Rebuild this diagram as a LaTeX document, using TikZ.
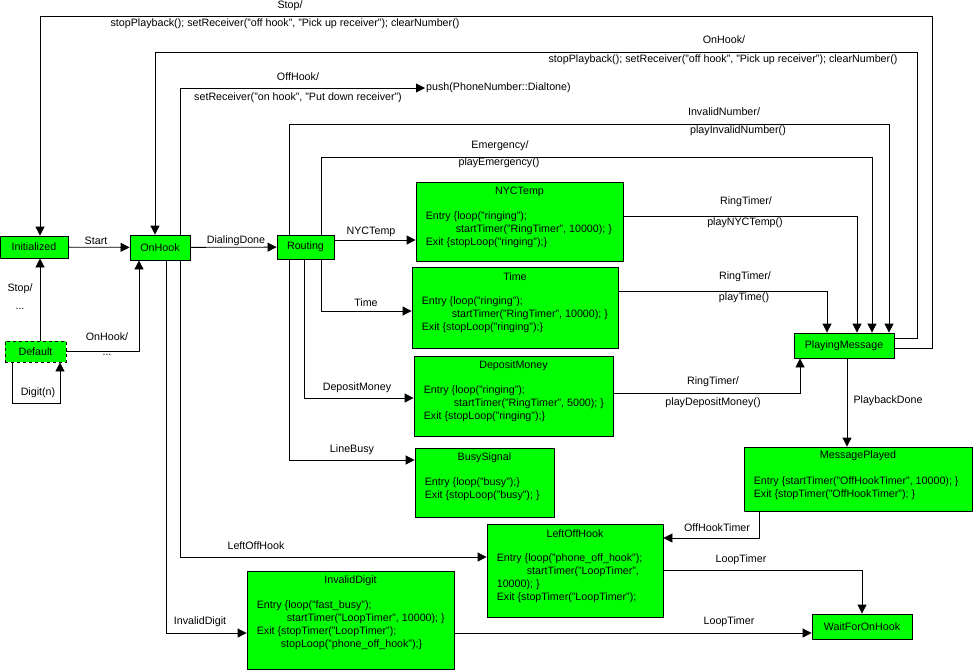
\documentclass[tikz,border=0pt]{standalone}
\usepackage{fontspec}
\setmainfont{Liberation Sans}
\usepackage{tikz}
\usetikzlibrary{arrows.meta,positioning}
\definecolor{stategreen}{RGB}{0,255,0}
\tikzset{
  state/.style={draw, fill=stategreen, line width=0.8pt, inner sep=0pt},
  superstate/.style={draw, fill=stategreen, line width=0.8pt, inner sep=0pt},
  trans/.style={-{Triangle[length=9pt,width=9pt]}, line width=0.8pt},
  lbl/.style={inner sep=0pt},
  body/.style={inner sep=0pt, align=left, anchor=north west},
}

\begin{document}
\begin{tikzpicture}[x=1pt, y=-1pt, font=\fontsize{10.7pt}{13pt}\selectfont]
 \useasboundingbox (0,0) rectangle (973,670);

 \node[state, minimum width=68, minimum height=22] (init) at (34,247) {Initialized};
 \node[state, minimum width=60, minimum height=25] (onhook) at (160,247.5) {OnHook};
 \node[state, minimum width=57, minimum height=24] (rt) at (305.5,247) {Routing};
 \node[state, dashed, minimum width=61, minimum height=21] (def) at (35.5,351.5) {Default};
 \node[state, minimum width=100, minimum height=25] (pm) at (844,345.5) {PlayingMessage};
 \node[state, minimum width=100, minimum height=25] (wait) at (862,626.5) {WaitForOnHook};
 \node[inner sep=1pt, anchor=west] (push) at (425,88) {push(PhoneNumber::Dialtone)};

 \node[superstate, minimum width=207, minimum height=79] (nyc) at (519.5,221.5) {};
 \node[lbl] (nyc-t) at ([yshift=-10pt]nyc.north) {NYCTemp};
 \node[body] (nyc-b) at ([xshift=10pt,yshift=-30pt]nyc.north west)
  {Entry \{loop("ringing");\\\hspace*{30pt}startTimer("RingTimer", 10000); \}\\Exit \{stopLoop("ringing");\}};

 \node[superstate, minimum width=206, minimum height=81] (time) at (515,307.5) {};
 \node[lbl] (time-t) at ([yshift=-10pt]time.north) {Time};
 \node[body] (time-b) at ([xshift=10pt,yshift=-30pt]time.north west)
  {Entry \{loop("ringing");\\\hspace*{30pt}startTimer("RingTimer", 10000); \}\\Exit \{stopLoop("ringing");\}};

 \node[superstate, minimum width=199, minimum height=80] (dep) at (513.5,396) {};
 \node[lbl] (dep-t) at ([yshift=-10pt]dep.north) {DepositMoney};
 \node[body] (dep-b) at ([xshift=10pt,yshift=-30pt]dep.north west)
  {Entry \{loop("ringing");\\\hspace*{30pt}startTimer("RingTimer", 5000); \}\\Exit \{stopLoop("ringing");\}};

 \node[superstate, minimum width=139, minimum height=69] (busy) at (484.5,482.5) {};
 \node[lbl] (busy-t) at ([yshift=-10pt]busy.north) {BusySignal};
 \node[body] (busy-b) at ([xshift=10pt,yshift=-30pt]busy.north west)
  {Entry \{loop("busy");\}\\Exit \{stopLoop("busy"); \}};

 \node[superstate, minimum width=228, minimum height=64] (mp) at (858,479) {};
 \node[lbl] (mp-t) at ([yshift=-9pt]mp.north) {MessagePlayed};
 \node[body] (mp-b) at ([xshift=10pt,yshift=-30pt]mp.north west)
  {Entry \{startTimer("OffHookTimer", 10000); \}\\Exit \{stopTimer("OffHookTimer"); \}};

 \node[superstate, minimum width=176, minimum height=93] (loh) at (575,570.5) {};
 \node[lbl] (loh-t) at ([yshift=-10pt]loh.north) {LeftOffHook};
 \node[body] (loh-b) at ([xshift=10pt,yshift=-30pt]loh.north west)
  {Entry \{loop("phone\_off\_hook");\\\hspace*{30pt}startTimer("LoopTimer",\\10000); \}\\Exit \{stopTimer("LoopTimer");};

 \node[superstate, minimum width=207, minimum height=98] (inv) at (350.5,620) {};
 \node[lbl] (inv-t) at ([yshift=-10pt]inv.north) {InvalidDigit};
 \node[body] (inv-b) at ([xshift=10pt,yshift=-30pt]inv.north west)
  {Entry \{loop("fast\_busy");\\\hspace*{30pt}startTimer("LoopTimer", 10000); \}\\Exit \{stopTimer("LoopTimer");\\\hspace*{24pt}stopLoop("phone\_off\_hook");\}};

 \draw[trans] (init) -- (onhook);
 \draw[trans] (onhook) -- (rt);
 \draw[trans] ([xshift=4.5pt]def.north) -- ([xshift=4.5pt]def.north |- init.south);
 \draw[trans] (def.east) -| ([xshift=-21pt]onhook.south);
 \draw[trans] ([xshift=-23.5pt]def.south) -- ++(0,41) -| ([xshift=24.5pt]def.south);

 \draw[trans] ([yshift=7pt]rt.east) -- ([yshift=7pt]rt.east -| nyc.west);
 \draw[trans] ([xshift=15.5pt]rt.south) |- ([yshift=-3.5pt]time.west);
 \draw[trans] ([xshift=-1.5pt]rt.south) |- ([yshift=-2pt]dep.west);
 \draw[trans] ([xshift=-16.5pt]rt.south) |- ([yshift=22.5pt]busy.west);
 \draw[trans] ([xshift=15.5pt]rt.north) -- ++(0,-77) -| ([xshift=28pt]pm.north);
 \draw[trans] ([xshift=-16.5pt]rt.north) -- ++(0,-110) -| ([xshift=45pt]pm.north);

 \draw[trans] ([yshift=5.5pt]nyc.east) -| ([xshift=13pt]pm.north);
 \draw[trans] ([yshift=16.5pt]time.east) -| ([xshift=-17pt]pm.north);
 \draw[trans] ([yshift=3pt]dep.east) -| ([xshift=-44pt]pm.south);

 \draw[trans] ([yshift=-2.5pt]pm.east) -| (932,16) -| ([xshift=6pt]init.north);
 \draw[trans] ([yshift=7.5pt]pm.east) -| (917,52) -| ([xshift=-5pt]onhook.north);
 \draw[trans] ([xshift=20pt]onhook.north) |- (push.west);

 \draw[trans] ([xshift=20pt]onhook.south) |- ([yshift=13.5pt]loh.west);
 \draw[trans] ([xshift=6pt]onhook.south) |- ([yshift=-13pt]inv.west);

 \draw[trans] ([xshift=3pt]pm.south) -- ([xshift=3pt]pm.south |- mp.north);
 \draw[trans] ([xshift=-99pt]mp.south) |- ([yshift=32.5pt]loh.east);
 \draw[trans] (loh.east) -| (wait.north);
 \draw[trans] ([yshift=-13pt]inv.east) -- ([yshift=-13pt]inv.east -| wait.west);

 \node[lbl] (l-start) at (96,241) {Start};
 \node[lbl] (l-dial) at (236,241) {DialingDone};
 \node[lbl] (l-stop1) at (20,289) {Stop/};
 \node[lbl] (l-stop2) at (20,309) {...};
 \node[lbl] (l-onh1) at (107,337) {OnHook/};
 \node[lbl] (l-onh2) at (107,355) {...};
 \node[lbl] (l-digit) at (38,393) {Digit(n)};
 \node[lbl] (l-nyc) at (371,232) {NYCTemp};
 \node[lbl] (l-time) at (366,303) {Time};
 \node[lbl] (l-dep) at (357,388) {DepositMoney};
 \node[lbl] (l-busy) at (352,450) {LineBusy};
 \node[lbl] (l-emg1) at (500,146) {Emergency/};
 \node[lbl] (l-emg2) at (499,163) {playEmergency()};
 \node[lbl] (l-inn1) at (724,112) {InvalidNumber/};
 \node[lbl] (l-inn2) at (738,131) {playInvalidNumber()};
 \node[lbl] (l-ring1) at (746,202) {RingTimer/};
 \node[lbl] (l-ring2) at (745,223) {playNYCTemp()};
 \node[lbl] (l-ring3) at (745,277) {RingTimer/};
 \node[lbl] (l-ring4) at (744,298) {playTime()};
 \node[lbl] (l-ring5) at (713,382) {RingTimer/};
 \node[lbl] (l-ring6) at (713,403) {playDepositMoney()};
 \node[lbl] (l-stopa) at (290,5.5) {Stop/};
 \node[lbl] (l-stopb) at (285,24) {stopPlayback(); setReceiver("off hook", "Pick up receiver"); clearNumber()};
 \node[lbl] (l-onha) at (724,40) {OnHook/};
 \node[lbl] (l-onhb) at (723,60) {stopPlayback(); setReceiver("off hook", "Pick up receiver"); clearNumber()};
 \node[lbl] (l-offa) at (298,77) {OffHook/};
 \node[lbl] (l-offb) at (298,98) {setReceiver("on hook", "Put down receiver")};
 \node[lbl] (l-play) at (888,401) {PlaybackDone};
 \node[lbl] (l-oht) at (717,528) {OffHookTimer};
 \node[lbl] (l-loop1) at (741,560) {LoopTimer};
 \node[lbl] (l-loop2) at (729,622) {LoopTimer};
 \node[lbl] (l-left) at (256,546) {LeftOffHook};
 \node[lbl] (l-inv) at (200,622) {InvalidDigit};
\end{tikzpicture}
\end{document}
